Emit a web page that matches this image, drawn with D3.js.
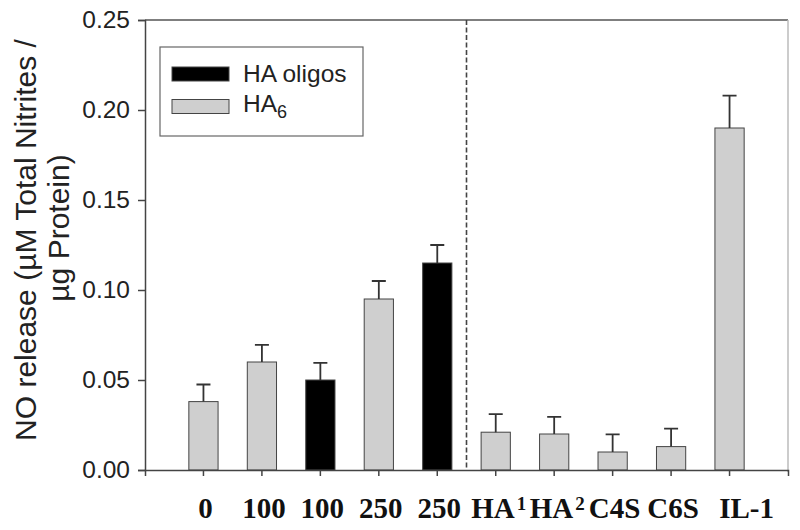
<!DOCTYPE html>
<html>
<head>
<meta charset="utf-8">
<script src="https://cdn.jsdelivr.net/npm/d3@7/dist/d3.min.js"></script>
<style>
    body { margin: 0; background: #fff; }
    #chart { width: 800px; height: 530px; }
    .sans { font-family: "Liberation Sans", Arial, sans-serif; }
    .serif { font-family: "Liberation Serif", "Times New Roman", serif; font-weight: bold; }
</style>
</head>
<body>
<div id="chart"></div>
<script>
// Bar labels (superscripts kept apart so they can be raised)
var labels = ["0", "100", "100", "250", "250", "HA", "HA", "C4S", "C6S", "IL-1"];
var superscripts = ["", "", "", "", "", "1", "2", "", "", ""];

// Which series every bar belongs to
var groups = ["HA6", "HA6", "oligos", "HA6", "oligos", "HA6", "HA6", "HA6", "HA6", "HA6"];

// NO release and its error (upper bar only)
var values = [0.038, 0.060, 0.050, 0.095, 0.115, 0.021, 0.020, 0.010, 0.013, 0.190];
var errors = [0.0095, 0.0095, 0.0095, 0.010, 0.010, 0.010, 0.0095, 0.0098, 0.010, 0.018];

var yTicks = [0, 0.05, 0.10, 0.15, 0.20, 0.25];

var legendKeys = ["oligos", "HA6"];
var colors = {oligos: "#000000", HA6: "#cfcfcf"};

var margin = {left: 145, right: 12, top: 20, bottom: 60};
var width = 800 - margin.left - margin.right;
var height = 530 - margin.top - margin.bottom;

var svg = d3.select("#chart").append("svg")
    .attr("width", 800)
    .attr("height", 530);

var g = svg.append("g")
    .attr("transform", "translate(" + margin.left + "," + margin.top + ")");

// Scales
var x = d3.scaleBand()
    .domain(d3.range(values.length))
    .range([0, width])
    .paddingInner(0.5)
    .paddingOuter(0.75);

var y = d3.scaleLinear()
    .domain([0, 0.25])
    .range([height, 0]);

// Frame lines: top is dark, right one is light
g.append("line")
    .attr("x1", 0).attr("x2", width)
    .attr("y1", 0).attr("y2", 0)
    .attr("stroke", "#555")
    .attr("stroke-width", 1.5);

g.append("line")
    .attr("x1", width).attr("x2", width)
    .attr("y1", 0).attr("y2", height + 2)
    .attr("stroke", "#bbb")
    .attr("stroke-width", 1.5);

// Dashed divider between the two groups of bars
var divX = (x(4) + x.bandwidth() + x(5)) / 2;
g.append("line")
    .attr("x1", divX).attr("x2", divX)
    .attr("y1", 0).attr("y2", height)
    .attr("stroke", "#444")
    .attr("stroke-width", 1.6)
    .attr("stroke-dasharray", "5,2.5");

// Bars
g.selectAll(".bar")
    .data(values)
    .enter().append("rect")
    .attr("class", "bar")
    .attr("x", function(d, i) { return x(i); })
    .attr("y", function(d) { return y(d); })
    .attr("width", x.bandwidth())
    .attr("height", function(d) { return height - y(d); })
    .attr("fill", function(d, i) { return colors[groups[i]]; })
    .attr("stroke", "#444")
    .attr("stroke-width", 1);

// Error bars, upper half only
var capW = 14;
g.selectAll(".err")
    .data(values)
    .enter().append("path")
    .attr("class", "err")
    .attr("d", function(d, i) {
        var cx = x(i) + x.bandwidth() / 2;
        var top = y(d + errors[i]);
        return "M" + cx + "," + y(d) + "V" + top + "M" + (cx - capW / 2) + "," + top + "H" + (cx + capW / 2);
    })
    .attr("fill", "none")
    .attr("stroke", "#333")
    .attr("stroke-width", 1.8);

// Y axis
var yAxis = g.append("g")
    .attr("class", "sans")
    .call(d3.axisLeft(y)
        .tickValues(yTicks)
        .tickFormat(d3.format(".2f"))
        .tickSize(7)
        .tickPadding(8));

yAxis.selectAll("text")
    .attr("font-size", 24.5)
    .attr("fill", "#222")
    .attr("font-family", "Liberation Sans, Arial, sans-serif");

// X axis (labels drawn separately for the superscripts)
var xAxis = g.append("g")
    .attr("transform", "translate(0," + height + ")")
    .call(d3.axisBottom(x).tickSize(6).tickFormat(""));

g.selectAll(".domain, .tick line")
    .attr("stroke", "#444")
    .attr("stroke-width", 1.5);

var xLabels = g.selectAll(".xlabel")
    .data(labels)
    .enter().append("text")
    .attr("class", "xlabel serif")
    .attr("x", function(d, i) { return x(i) + x.bandwidth() / 2; })
    .attr("y", height + 48)
    // IL-1 sits a little right of its tick in the original
    .attr("dx", function(d, i) { return d == "IL-1" ? 17 : (superscripts[i] ? 3 : 2); })
    .attr("text-anchor", "middle")
    .attr("font-size", 29)
    .attr("fill", "#111");

xLabels.append("tspan").text(function(d) { return d; });
xLabels.append("tspan")
    .attr("font-size", 19)
    .attr("dx", 2)
    .attr("dy", -8)
    .text(function(d, i) { return superscripts[i]; });

// Y axis title, two lines
var title = svg.append("text")
    .attr("class", "sans")
    .attr("transform", "rotate(-90)")
    .attr("text-anchor", "middle")
    .attr("font-size", 30)
    .attr("fill", "#222");

title.append("tspan")
    .attr("x", -240)
    .attr("y", 36)
    .text("NO release (\u00b5M Total Nitrites /");
title.append("tspan")
    .attr("x", -228)
    .attr("y", 69)
    .text("\u00b5g Protein)");

// Legend
var legend = svg.append("g")
    .attr("class", "sans");

legend.append("rect")
    .attr("x", 160)
    .attr("y", 47)
    .attr("width", 203)
    .attr("height", 89)
    .attr("fill", "#fff")
    .attr("stroke", "#666")
    .attr("stroke-width", 1.2);

legend.selectAll(".swatch")
    .data(legendKeys)
    .enter().append("rect")
    .attr("class", "swatch")
    .attr("x", 172)
    .attr("y", function(d, i) { return 67 + i * 32.5; })
    .attr("width", 57)
    .attr("height", 14)
    .attr("fill", function(d) { return colors[d]; })
    .attr("stroke", "#444")
    .attr("stroke-width", 1);

legend.append("text")
    .attr("x", 243)
    .attr("y", 82)
    .attr("font-size", 24.5)
    .attr("fill", "#222")
    .text("HA oligos");

var ha6 = legend.append("text")
    .attr("x", 243)
    .attr("y", 112)
    .attr("font-size", 24.5)
    .attr("fill", "#222");
ha6.append("tspan").text("HA");
ha6.append("tspan").attr("font-size", 18).attr("dy", 6).text("6");
</script>
</body>
</html>
